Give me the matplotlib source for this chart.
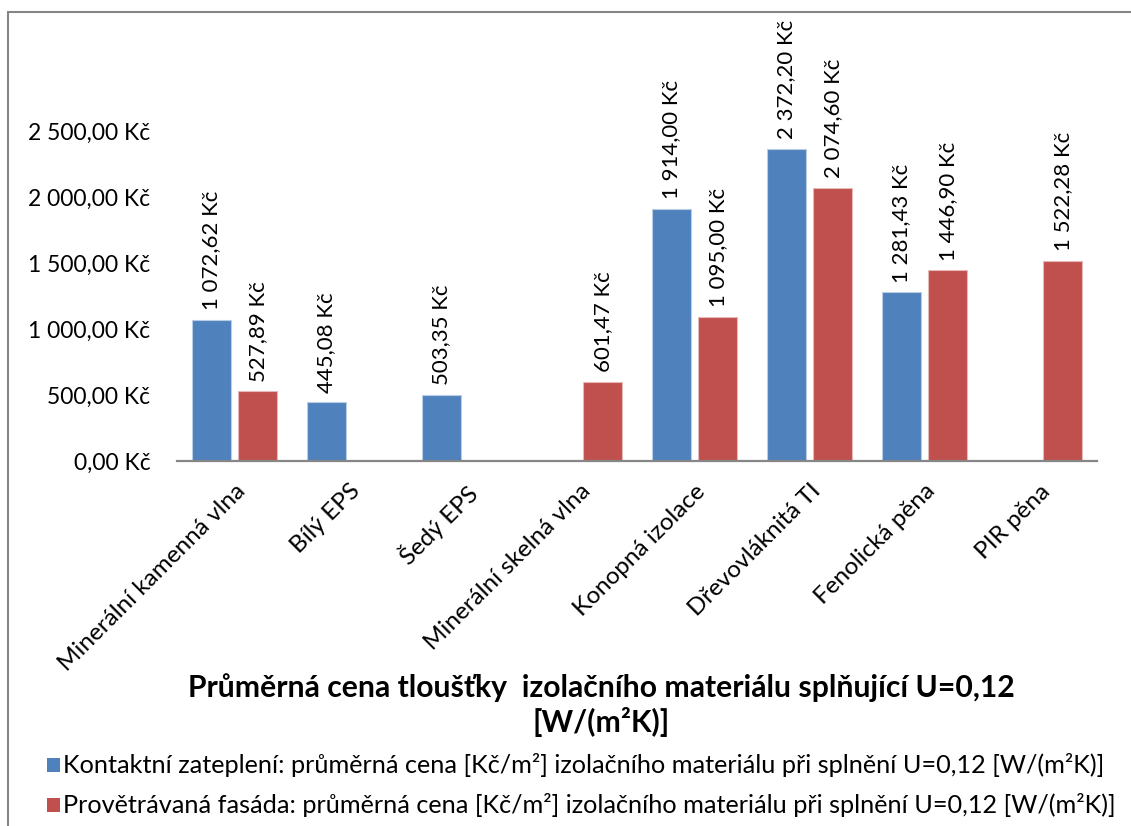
import numpy as np
import matplotlib
matplotlib.use("Agg")
import matplotlib.pyplot as plt
from matplotlib.patches import Rectangle

plt.rcParams['font.family'] = ['Lato', 'DejaVu Sans']

categories = ["Minerální kamenná vlna", "Bílý EPS", "Šedý EPS", "Minerální skelná vlna",
              "Konopná izolace", "Dřevovláknitá TI", "Fenolická pěna", "PIR pěna"]
kontaktni = [1072.62, 445.08, 503.35, np.nan, 1914.00, 2372.20, 1281.43, np.nan]
provetravana = [527.89, np.nan, np.nan, 601.47, 1095.00, 2074.60, 1446.90, 1522.28]
series_names = ["Kontaktní zateplení: průměrná cena [Kč/m²] izolačního materiálu při splnění U=0,12 [W/(m²K)]",
                "Provětrávaná fasáda: průměrná cena [Kč/m²] izolačního materiálu při splnění U=0,12 [W/(m²K)]"]
yticks = [0, 500, 1000, 1500, 2000, 2500]
title = "Průměrná cena tloušťky  izolačního materiálu splňující U=0,12\n[W/(m²K)]"

def fmt(v):
    s = f"{v:,.2f}".replace(",", " ").replace(".", ",")
    return s + " Kč"

fig = plt.figure(figsize=(11.31, 8.26), dpi=100)
ax = fig.add_axes([177/1131, 365/826, 920/1131, 395/826])

x = np.arange(len(categories))
w = 0.339
off = 0.204
colors = ["#4F81BD", "#C0504D"]
edges = ["#B9CDE5", "#E6B9B8"]

for vals, o, c, e in [(kontaktni, -off, colors[0], edges[0]), (provetravana, off, colors[1], edges[1])]:
    arr = np.array(vals, dtype=float)
    mask = ~np.isnan(arr)
    ax.bar(x[mask] + o, arr[mask], width=w, color=c, edgecolor=e, linewidth=0.8)
    for xi, v in zip(x[mask] + o, arr[mask]):
        ax.annotate(fmt(v), (xi, v), xytext=(0, 7), textcoords="offset points",
                    rotation=90, ha="center", va="bottom", fontsize=16, clip_on=False)

ax.set_xlim(-0.5, len(categories) - 0.5)
ax.set_ylim(0, 3000)
ax.set_yticks(yticks)
ax.set_yticklabels([fmt(v) for v in yticks], fontsize=16.5)
ax.set_xticks(x)
ax.set_xticklabels(categories, rotation=45, ha="right", va="top", rotation_mode="anchor", fontsize=17.5)
ax.tick_params(axis="both", length=0)
ax.tick_params(axis="y", pad=19)
ax.tick_params(axis="x", pad=14)
for s in ["top", "right", "left"]:
    ax.spines[s].set_visible(False)
ax.spines["bottom"].set_color("#868686")
ax.spines["bottom"].set_linewidth(1.6)

fig.text(601/1131, 1 - 705/826, title, ha="center", va="center", fontsize=21.7,
         fontweight="bold", linespacing=1.2)

# legend
for i, (name, c) in enumerate(zip(series_names, colors)):
    yc = 1 - (765 + 40 * i) / 826
    fig.patches.append(Rectangle((47/1131, yc - 7/826), 13/1131, 14/826,
                                 transform=fig.transFigure, facecolor=c, edgecolor="none"))
    fig.text(63/1131, yc, name, ha="left", va="center", fontsize=18.2)

# chart border
fig.patches.append(Rectangle((8/1131, -0.1), 1.2, 1 - 12/826 + 0.1, transform=fig.transFigure,
                             facecolor="none", edgecolor="#868686", linewidth=1.5))

fig.savefig("out.png", dpi=100)
